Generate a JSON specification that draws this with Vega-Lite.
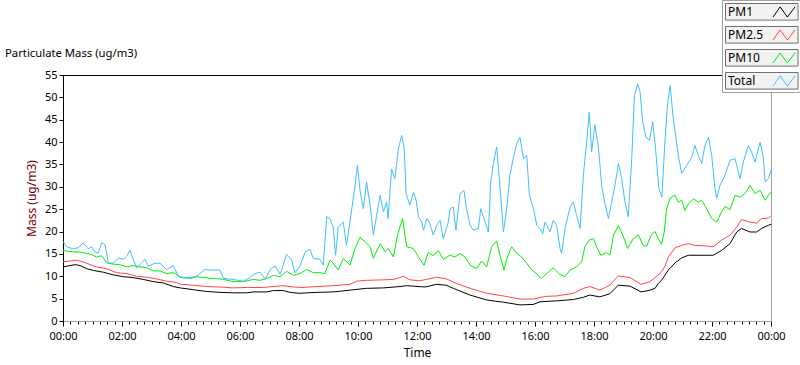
{
  "$schema": "https://vega.github.io/schema/vega-lite/v6.json",
  "width": 708,
  "height": 246,
  "autosize": {"type": "none"},
  "padding": {"left": 63, "top": 75, "right": 29, "bottom": 44},
  "background": "white",
  "title": {"text": "Particulate Mass (ug/m3)", "anchor": "start", "frame": "group", "dx": -58, "offset": -66, "baseline": "middle", "fontSize": 11.3, "fontWeight": "normal", "font": "Noto Sans", "color": "black"},
  "config": {"view": {"stroke": "#a0a0a0", "strokeWidth": 1}, "font": "Noto Sans"},
  "data": {"values": [
    {"series":"PM1","hour":0,"value":12.1},{"series":"PM1","hour":0.41,"value":12.6},{"series":"PM1","hour":0.58,"value":12.4},{"series":"PM1","hour":0.8,"value":11.7},{"series":"PM1","hour":1.03,"value":11.3},{"series":"PM1","hour":1.37,"value":10.9},{"series":"PM1","hour":1.71,"value":10.3},{"series":"PM1","hour":2.05,"value":9.9},{"series":"PM1","hour":2.38,"value":9.7},{"series":"PM1","hour":2.72,"value":9.3},{"series":"PM1","hour":3.06,"value":8.8},{"series":"PM1","hour":3.4,"value":8.5},{"series":"PM1","hour":3.74,"value":7.7},{"series":"PM1","hour":3.97,"value":7.4},{"series":"PM1","hour":4.42,"value":7.0},{"series":"PM1","hour":4.87,"value":6.6},{"series":"PM1","hour":5.32,"value":6.4},{"series":"PM1","hour":5.77,"value":6.3},{"series":"PM1","hour":6.23,"value":6.3},{"series":"PM1","hour":6.45,"value":6.5},{"series":"PM1","hour":6.9,"value":6.5},{"series":"PM1","hour":7.13,"value":6.8},{"series":"PM1","hour":7.47,"value":6.8},{"series":"PM1","hour":7.7,"value":6.4},{"series":"PM1","hour":8.0,"value":6.2},{"series":"PM1","hour":8.6,"value":6.4},{"series":"PM1","hour":9.16,"value":6.5},{"series":"PM1","hour":9.73,"value":6.9},{"series":"PM1","hour":10.29,"value":7.3},{"series":"PM1","hour":10.86,"value":7.4},{"series":"PM1","hour":11.42,"value":7.7},{"series":"PM1","hour":11.65,"value":7.9},{"series":"PM1","hour":12.27,"value":7.6},{"series":"PM1","hour":12.67,"value":8.2},{"series":"PM1","hour":12.99,"value":8.0},{"series":"PM1","hour":13.23,"value":7.3},{"series":"PM1","hour":13.8,"value":5.8},{"series":"PM1","hour":14.36,"value":4.7},{"series":"PM1","hour":14.93,"value":4.2},{"series":"PM1","hour":15.49,"value":3.6},{"series":"PM1","hour":15.94,"value":3.7},{"series":"PM1","hour":16.17,"value":4.3},{"series":"PM1","hour":16.73,"value":4.5},{"series":"PM1","hour":17.3,"value":4.8},{"series":"PM1","hour":17.64,"value":5.3},{"series":"PM1","hour":17.86,"value":5.8},{"series":"PM1","hour":18.2,"value":5.4},{"series":"PM1","hour":18.54,"value":6.1},{"series":"PM1","hour":18.82,"value":8.0},{"series":"PM1","hour":19.22,"value":7.8},{"series":"PM1","hour":19.6,"value":6.5},{"series":"PM1","hour":19.9,"value":6.9},{"series":"PM1","hour":20.07,"value":7.3},{"series":"PM1","hour":20.18,"value":8.4},{"series":"PM1","hour":20.29,"value":9.1},{"series":"PM1","hour":20.52,"value":11.4},{"series":"PM1","hour":20.75,"value":13.0},{"series":"PM1","hour":20.97,"value":14.1},{"series":"PM1","hour":21.2,"value":14.7},{"series":"PM1","hour":22.04,"value":14.7},{"series":"PM1","hour":22.33,"value":15.8},{"series":"PM1","hour":22.61,"value":17.3},{"series":"PM1","hour":22.84,"value":19.9},{"series":"PM1","hour":23.0,"value":20.7},{"series":"PM1","hour":23.29,"value":19.9},{"series":"PM1","hour":23.51,"value":19.9},{"series":"PM1","hour":23.68,"value":20.7},{"series":"PM1","hour":23.91,"value":21.4},{"series":"PM1","hour":24,"value":21.6},
    {"series":"PM2.5","hour":0,"value":13.2},{"series":"PM2.5","hour":0.46,"value":13.6},{"series":"PM2.5","hour":0.69,"value":13.2},{"series":"PM2.5","hour":0.92,"value":12.6},{"series":"PM2.5","hour":1.14,"value":12.1},{"series":"PM2.5","hour":1.48,"value":11.7},{"series":"PM2.5","hour":1.82,"value":10.8},{"series":"PM2.5","hour":2.16,"value":10.6},{"series":"PM2.5","hour":2.5,"value":10.0},{"series":"PM2.5","hour":2.84,"value":9.8},{"series":"PM2.5","hour":3.18,"value":9.4},{"series":"PM2.5","hour":3.51,"value":8.9},{"series":"PM2.5","hour":3.85,"value":8.6},{"series":"PM2.5","hour":4.0,"value":8.2},{"series":"PM2.5","hour":4.42,"value":8.0},{"series":"PM2.5","hour":4.87,"value":7.7},{"series":"PM2.5","hour":5.32,"value":7.6},{"series":"PM2.5","hour":5.77,"value":7.4},{"series":"PM2.5","hour":6.23,"value":7.5},{"series":"PM2.5","hour":6.79,"value":7.5},{"series":"PM2.5","hour":7.13,"value":7.7},{"series":"PM2.5","hour":7.47,"value":7.9},{"series":"PM2.5","hour":7.81,"value":7.6},{"series":"PM2.5","hour":8.1,"value":7.5},{"series":"PM2.5","hour":8.6,"value":7.7},{"series":"PM2.5","hour":9.16,"value":7.9},{"series":"PM2.5","hour":9.73,"value":8.2},{"series":"PM2.5","hour":9.95,"value":8.9},{"series":"PM2.5","hour":10.29,"value":9.1},{"series":"PM2.5","hour":10.86,"value":9.2},{"series":"PM2.5","hour":11.2,"value":9.3},{"series":"PM2.5","hour":11.42,"value":9.7},{"series":"PM2.5","hour":11.53,"value":10.0},{"series":"PM2.5","hour":11.76,"value":9.2},{"series":"PM2.5","hour":12.1,"value":9.0},{"series":"PM2.5","hour":12.67,"value":9.8},{"series":"PM2.5","hour":13.0,"value":9.4},{"series":"PM2.5","hour":13.33,"value":8.4},{"series":"PM2.5","hour":13.8,"value":7.3},{"series":"PM2.5","hour":14.36,"value":6.2},{"series":"PM2.5","hour":14.93,"value":5.6},{"series":"PM2.5","hour":15.49,"value":4.9},{"series":"PM2.5","hour":15.94,"value":4.9},{"series":"PM2.5","hour":16.34,"value":5.5},{"series":"PM2.5","hour":16.73,"value":5.6},{"series":"PM2.5","hour":17.3,"value":6.2},{"series":"PM2.5","hour":17.64,"value":7.3},{"series":"PM2.5","hour":17.86,"value":7.7},{"series":"PM2.5","hour":18.2,"value":6.9},{"series":"PM2.5","hour":18.54,"value":8.0},{"series":"PM2.5","hour":18.82,"value":10.1},{"series":"PM2.5","hour":19.22,"value":9.7},{"series":"PM2.5","hour":19.6,"value":8.2},{"series":"PM2.5","hour":19.9,"value":8.8},{"series":"PM2.5","hour":20.18,"value":10.3},{"series":"PM2.5","hour":20.29,"value":11.0},{"series":"PM2.5","hour":20.41,"value":12.3},{"series":"PM2.5","hour":20.52,"value":14.3},{"series":"PM2.5","hour":20.75,"value":16.4},{"series":"PM2.5","hour":20.97,"value":16.9},{"series":"PM2.5","hour":21.2,"value":17.3},{"series":"PM2.5","hour":21.42,"value":16.9},{"series":"PM2.5","hour":21.76,"value":16.8},{"series":"PM2.5","hour":22.04,"value":16.6},{"series":"PM2.5","hour":22.33,"value":18.1},{"series":"PM2.5","hour":22.61,"value":19.2},{"series":"PM2.5","hour":22.84,"value":21.0},{"series":"PM2.5","hour":23.0,"value":22.7},{"series":"PM2.5","hour":23.29,"value":22.1},{"series":"PM2.5","hour":23.51,"value":21.9},{"series":"PM2.5","hour":23.68,"value":22.9},{"series":"PM2.5","hour":23.91,"value":23.0},{"series":"PM2.5","hour":24,"value":23.6},
    {"series":"PM10","hour":0,"value":15.8},{"series":"PM10","hour":0.24,"value":15.5},{"series":"PM10","hour":0.58,"value":15.4},{"series":"PM10","hour":0.92,"value":15.0},{"series":"PM10","hour":1.14,"value":14.3},{"series":"PM10","hour":1.31,"value":14.6},{"series":"PM10","hour":1.48,"value":13.0},{"series":"PM10","hour":1.71,"value":12.7},{"series":"PM10","hour":1.93,"value":12.6},{"series":"PM10","hour":2.16,"value":12.1},{"series":"PM10","hour":2.38,"value":12.4},{"series":"PM10","hour":2.61,"value":12.1},{"series":"PM10","hour":2.84,"value":11.9},{"series":"PM10","hour":3.06,"value":11.2},{"series":"PM10","hour":3.29,"value":11.2},{"series":"PM10","hour":3.51,"value":10.6},{"series":"PM10","hour":3.74,"value":10.8},{"series":"PM10","hour":3.97,"value":9.9},{"series":"PM10","hour":4.31,"value":9.5},{"series":"PM10","hour":4.53,"value":9.9},{"series":"PM10","hour":4.76,"value":9.7},{"series":"PM10","hour":5.1,"value":9.5},{"series":"PM10","hour":5.44,"value":9.3},{"series":"PM10","hour":5.77,"value":8.8},{"series":"PM10","hour":6.11,"value":8.8},{"series":"PM10","hour":6.45,"value":9.3},{"series":"PM10","hour":6.68,"value":9.1},{"series":"PM10","hour":6.9,"value":9.5},{"series":"PM10","hour":7.13,"value":10.2},{"series":"PM10","hour":7.36,"value":9.9},{"series":"PM10","hour":7.58,"value":11.1},{"series":"PM10","hour":7.81,"value":10.2},{"series":"PM10","hour":8.03,"value":10.6},{"series":"PM10","hour":8.26,"value":11.5},{"series":"PM10","hour":8.49,"value":10.8},{"series":"PM10","hour":8.71,"value":10.8},{"series":"PM10","hour":8.88,"value":10.6},{"series":"PM10","hour":9.05,"value":13.6},{"series":"PM10","hour":9.16,"value":12.9},{"series":"PM10","hour":9.33,"value":11.4},{"series":"PM10","hour":9.5,"value":14.0},{"series":"PM10","hour":9.73,"value":12.5},{"series":"PM10","hour":9.9,"value":16.2},{"series":"PM10","hour":10.07,"value":18.7},{"series":"PM10","hour":10.24,"value":17.7},{"series":"PM10","hour":10.41,"value":16.6},{"series":"PM10","hour":10.52,"value":14.0},{"series":"PM10","hour":10.75,"value":17.3},{"series":"PM10","hour":10.92,"value":15.5},{"series":"PM10","hour":11.03,"value":16.2},{"series":"PM10","hour":11.2,"value":14.3},{"series":"PM10","hour":11.34,"value":19.2},{"series":"PM10","hour":11.51,"value":22.9},{"series":"PM10","hour":11.65,"value":16.6},{"series":"PM10","hour":11.88,"value":16.2},{"series":"PM10","hour":12.05,"value":14.3},{"series":"PM10","hour":12.24,"value":12.5},{"series":"PM10","hour":12.38,"value":15.3},{"series":"PM10","hour":12.55,"value":14.6},{"series":"PM10","hour":12.72,"value":15.8},{"series":"PM10","hour":12.89,"value":13.8},{"series":"PM10","hour":13.12,"value":14.7},{"series":"PM10","hour":13.29,"value":14.3},{"series":"PM10","hour":13.46,"value":15.1},{"series":"PM10","hour":13.63,"value":14.3},{"series":"PM10","hour":13.8,"value":12.5},{"series":"PM10","hour":14.02,"value":11.7},{"series":"PM10","hour":14.19,"value":13.4},{"series":"PM10","hour":14.36,"value":12.1},{"series":"PM10","hour":14.53,"value":16.6},{"series":"PM10","hour":14.7,"value":17.9},{"series":"PM10","hour":14.81,"value":14.7},{"series":"PM10","hour":14.95,"value":11.4},{"series":"PM10","hour":15.06,"value":14.3},{"series":"PM10","hour":15.21,"value":16.6},{"series":"PM10","hour":15.38,"value":15.1},{"series":"PM10","hour":15.55,"value":14.3},{"series":"PM10","hour":15.72,"value":12.9},{"series":"PM10","hour":15.89,"value":11.4},{"series":"PM10","hour":16.06,"value":10.6},{"series":"PM10","hour":16.2,"value":9.5},{"series":"PM10","hour":16.4,"value":10.6},{"series":"PM10","hour":16.62,"value":11.9},{"series":"PM10","hour":16.85,"value":10.4},{"series":"PM10","hour":17.02,"value":9.9},{"series":"PM10","hour":17.19,"value":11.4},{"series":"PM10","hour":17.41,"value":12.1},{"series":"PM10","hour":17.58,"value":13.2},{"series":"PM10","hour":17.69,"value":16.6},{"series":"PM10","hour":17.84,"value":18.1},{"series":"PM10","hour":17.98,"value":18.4},{"series":"PM10","hour":18.09,"value":16.6},{"series":"PM10","hour":18.23,"value":14.7},{"series":"PM10","hour":18.43,"value":15.3},{"series":"PM10","hour":18.54,"value":14.7},{"series":"PM10","hour":18.66,"value":19.2},{"series":"PM10","hour":18.83,"value":21.3},{"series":"PM10","hour":19.0,"value":18.8},{"series":"PM10","hour":19.14,"value":16.2},{"series":"PM10","hour":19.33,"value":18.4},{"series":"PM10","hour":19.5,"value":19.3},{"series":"PM10","hour":19.67,"value":16.9},{"series":"PM10","hour":19.78,"value":16.7},{"series":"PM10","hour":19.95,"value":19.3},{"series":"PM10","hour":20.07,"value":20.0},{"series":"PM10","hour":20.18,"value":18.4},{"series":"PM10","hour":20.29,"value":17.1},{"series":"PM10","hour":20.38,"value":19.9},{"series":"PM10","hour":20.46,"value":25.0},{"series":"PM10","hour":20.58,"value":27.5},{"series":"PM10","hour":20.75,"value":28.1},{"series":"PM10","hour":20.86,"value":26.5},{"series":"PM10","hour":20.97,"value":27.0},{"series":"PM10","hour":21.08,"value":24.7},{"series":"PM10","hour":21.2,"value":26.2},{"series":"PM10","hour":21.37,"value":27.3},{"series":"PM10","hour":21.54,"value":26.6},{"series":"PM10","hour":21.65,"value":27.0},{"series":"PM10","hour":21.82,"value":25.1},{"series":"PM10","hour":21.99,"value":22.9},{"series":"PM10","hour":22.16,"value":22.1},{"series":"PM10","hour":22.33,"value":24.5},{"series":"PM10","hour":22.44,"value":25.6},{"series":"PM10","hour":22.61,"value":24.9},{"series":"PM10","hour":22.78,"value":28.1},{"series":"PM10","hour":22.95,"value":27.7},{"series":"PM10","hour":23.12,"value":28.5},{"series":"PM10","hour":23.29,"value":30.3},{"series":"PM10","hour":23.46,"value":28.5},{"series":"PM10","hour":23.63,"value":29.2},{"series":"PM10","hour":23.8,"value":27.0},{"series":"PM10","hour":23.91,"value":28.1},{"series":"PM10","hour":24,"value":28.8},
    {"series":"Total","hour":0,"value":17.8},{"series":"Total","hour":0.12,"value":16.6},{"series":"Total","hour":0.35,"value":16.1},{"series":"Total","hour":0.52,"value":16.4},{"series":"Total","hour":0.69,"value":17.5},{"series":"Total","hour":0.86,"value":16.1},{"series":"Total","hour":0.97,"value":16.6},{"series":"Total","hour":1.08,"value":15.4},{"series":"Total","hour":1.2,"value":15.2},{"series":"Total","hour":1.31,"value":17.5},{"series":"Total","hour":1.42,"value":17.1},{"series":"Total","hour":1.54,"value":13.0},{"series":"Total","hour":1.71,"value":12.9},{"series":"Total","hour":1.88,"value":14.1},{"series":"Total","hour":2.05,"value":13.8},{"series":"Total","hour":2.16,"value":14.5},{"series":"Total","hour":2.27,"value":15.8},{"series":"Total","hour":2.38,"value":13.8},{"series":"Total","hour":2.5,"value":11.9},{"series":"Total","hour":2.67,"value":13.0},{"series":"Total","hour":2.78,"value":13.8},{"series":"Total","hour":2.89,"value":12.3},{"series":"Total","hour":3.12,"value":12.9},{"series":"Total","hour":3.29,"value":12.9},{"series":"Total","hour":3.51,"value":11.5},{"series":"Total","hour":3.74,"value":12.4},{"series":"Total","hour":3.91,"value":10.0},{"series":"Total","hour":4.08,"value":9.6},{"series":"Total","hour":4.31,"value":9.7},{"series":"Total","hour":4.53,"value":10.0},{"series":"Total","hour":4.81,"value":11.5},{"series":"Total","hour":4.98,"value":11.4},{"series":"Total","hour":5.32,"value":11.4},{"series":"Total","hour":5.44,"value":9.5},{"series":"Total","hour":5.77,"value":9.3},{"series":"Total","hour":6.11,"value":8.9},{"series":"Total","hour":6.33,"value":9.7},{"series":"Total","hour":6.5,"value":10.6},{"series":"Total","hour":6.68,"value":10.9},{"series":"Total","hour":6.85,"value":9.3},{"series":"Total","hour":7.02,"value":11.5},{"series":"Total","hour":7.19,"value":12.3},{"series":"Total","hour":7.36,"value":10.4},{"series":"Total","hour":7.58,"value":14.9},{"series":"Total","hour":7.75,"value":13.8},{"series":"Total","hour":7.86,"value":10.8},{"series":"Total","hour":8.03,"value":12.2},{"series":"Total","hour":8.2,"value":15.3},{"series":"Total","hour":8.37,"value":16.1},{"series":"Total","hour":8.48,"value":14.0},{"series":"Total","hour":8.71,"value":13.8},{"series":"Total","hour":8.82,"value":12.5},{"series":"Total","hour":8.94,"value":23.3},{"series":"Total","hour":9.05,"value":22.9},{"series":"Total","hour":9.16,"value":21.0},{"series":"Total","hour":9.24,"value":14.7},{"series":"Total","hour":9.33,"value":21.0},{"series":"Total","hour":9.5,"value":22.1},{"series":"Total","hour":9.61,"value":16.9},{"series":"Total","hour":9.79,"value":25.1},{"series":"Total","hour":9.9,"value":30.3},{"series":"Total","hour":9.98,"value":34.8},{"series":"Total","hour":10.07,"value":29.2},{"series":"Total","hour":10.18,"value":25.1},{"series":"Total","hour":10.29,"value":31.1},{"series":"Total","hour":10.41,"value":25.9},{"series":"Total","hour":10.52,"value":19.2},{"series":"Total","hour":10.63,"value":23.6},{"series":"Total","hour":10.75,"value":28.1},{"series":"Total","hour":10.86,"value":24.4},{"series":"Total","hour":10.97,"value":26.6},{"series":"Total","hour":11.02,"value":22.9},{"series":"Total","hour":11.14,"value":34.0},{"series":"Total","hour":11.25,"value":31.8},{"series":"Total","hour":11.37,"value":38.5},{"series":"Total","hour":11.48,"value":41.5},{"series":"Total","hour":11.57,"value":38.5},{"series":"Total","hour":11.63,"value":28.5},{"series":"Total","hour":11.76,"value":25.9},{"series":"Total","hour":11.88,"value":28.8},{"series":"Total","hour":11.97,"value":27.0},{"series":"Total","hour":12.05,"value":23.3},{"series":"Total","hour":12.16,"value":22.1},{"series":"Total","hour":12.22,"value":20.3},{"series":"Total","hour":12.33,"value":22.9},{"series":"Total","hour":12.44,"value":21.8},{"series":"Total","hour":12.55,"value":19.2},{"series":"Total","hour":12.67,"value":21.4},{"series":"Total","hour":12.78,"value":22.5},{"series":"Total","hour":12.89,"value":18.4},{"series":"Total","hour":13.06,"value":22.1},{"series":"Total","hour":13.12,"value":25.1},{"series":"Total","hour":13.23,"value":25.5},{"series":"Total","hour":13.32,"value":20.3},{"series":"Total","hour":13.46,"value":28.5},{"series":"Total","hour":13.59,"value":29.2},{"series":"Total","hour":13.68,"value":25.1},{"series":"Total","hour":13.8,"value":21.4},{"series":"Total","hour":13.91,"value":20.3},{"series":"Total","hour":14.08,"value":20.7},{"series":"Total","hour":14.16,"value":25.1},{"series":"Total","hour":14.31,"value":22.1},{"series":"Total","hour":14.42,"value":19.9},{"series":"Total","hour":14.5,"value":31.1},{"series":"Total","hour":14.59,"value":35.2},{"series":"Total","hour":14.7,"value":38.9},{"series":"Total","hour":14.81,"value":30.3},{"series":"Total","hour":14.93,"value":19.9},{"series":"Total","hour":15.04,"value":25.1},{"series":"Total","hour":15.15,"value":32.6},{"series":"Total","hour":15.27,"value":36.6},{"series":"Total","hour":15.38,"value":39.6},{"series":"Total","hour":15.49,"value":41.1},{"series":"Total","hour":15.61,"value":36.3},{"series":"Total","hour":15.72,"value":37.0},{"series":"Total","hour":15.81,"value":28.1},{"series":"Total","hour":15.95,"value":25.1},{"series":"Total","hour":16.06,"value":21.4},{"series":"Total","hour":16.17,"value":20.7},{"series":"Total","hour":16.26,"value":19.5},{"series":"Total","hour":16.34,"value":22.1},{"series":"Total","hour":16.4,"value":21.4},{"series":"Total","hour":16.51,"value":19.9},{"series":"Total","hour":16.62,"value":22.5},{"series":"Total","hour":16.73,"value":21.4},{"series":"Total","hour":16.85,"value":16.2},{"series":"Total","hour":16.9,"value":15.1},{"series":"Total","hour":17.02,"value":20.7},{"series":"Total","hour":17.19,"value":25.5},{"series":"Total","hour":17.3,"value":26.6},{"series":"Total","hour":17.41,"value":23.6},{"series":"Total","hour":17.53,"value":20.7},{"series":"Total","hour":17.64,"value":32.6},{"series":"Total","hour":17.75,"value":40.0},{"series":"Total","hour":17.84,"value":46.7},{"series":"Total","hour":17.92,"value":37.8},{"series":"Total","hour":18.03,"value":43.9},{"series":"Total","hour":18.15,"value":38.9},{"series":"Total","hour":18.26,"value":30.3},{"series":"Total","hour":18.37,"value":26.2},{"series":"Total","hour":18.49,"value":22.9},{"series":"Total","hour":18.6,"value":26.6},{"series":"Total","hour":18.71,"value":30.3},{"series":"Total","hour":18.83,"value":35.2},{"series":"Total","hour":18.94,"value":31.8},{"series":"Total","hour":19.05,"value":26.6},{"series":"Total","hour":19.16,"value":23.3},{"series":"Total","hour":19.28,"value":36.3},{"series":"Total","hour":19.37,"value":50.4},{"series":"Total","hour":19.48,"value":53.0},{"series":"Total","hour":19.56,"value":51.3},{"series":"Total","hour":19.65,"value":44.6},{"series":"Total","hour":19.76,"value":41.1},{"series":"Total","hour":19.88,"value":40.4},{"series":"Total","hour":19.99,"value":44.6},{"series":"Total","hour":20.08,"value":39.0},{"series":"Total","hour":20.2,"value":29.6},{"series":"Total","hour":20.3,"value":27.7},{"series":"Total","hour":20.41,"value":40.8},{"series":"Total","hour":20.5,"value":48.9},{"series":"Total","hour":20.58,"value":52.6},{"series":"Total","hour":20.69,"value":45.1},{"series":"Total","hour":20.86,"value":37.0},{"series":"Total","hour":20.97,"value":33.0},{"series":"Total","hour":21.14,"value":34.8},{"series":"Total","hour":21.31,"value":36.6},{"series":"Total","hour":21.42,"value":39.2},{"series":"Total","hour":21.54,"value":37.0},{"series":"Total","hour":21.65,"value":35.2},{"series":"Total","hour":21.76,"value":39.2},{"series":"Total","hour":21.88,"value":41.1},{"series":"Total","hour":21.99,"value":37.0},{"series":"Total","hour":22.1,"value":29.6},{"series":"Total","hour":22.16,"value":27.4},{"series":"Total","hour":22.27,"value":30.3},{"series":"Total","hour":22.44,"value":32.6},{"series":"Total","hour":22.61,"value":35.9},{"series":"Total","hour":22.78,"value":36.3},{"series":"Total","hour":22.95,"value":31.8},{"series":"Total","hour":23.06,"value":35.5},{"series":"Total","hour":23.23,"value":39.2},{"series":"Total","hour":23.34,"value":37.8},{"series":"Total","hour":23.46,"value":35.5},{"series":"Total","hour":23.63,"value":40.0},{"series":"Total","hour":23.74,"value":36.6},{"series":"Total","hour":23.8,"value":31.1},{"series":"Total","hour":23.91,"value":31.8},{"series":"Total","hour":24,"value":33.7}
  ]},
  "mark": {"type": "line", "strokeWidth": 1, "clip": true},
  "encoding": {
    "x": {
      "field": "hour", "type": "quantitative",
      "scale": {"domain": [0, 24], "nice": false},
      "axis": {
        "title": "Time", "titleFontSize": 12, "titleFontWeight": "normal", "titleColor": "black", "titlePadding": 6,
        "values": [0,0.25,0.5,0.75,1,1.25,1.5,1.75,2,2.25,2.5,2.75,3,3.25,3.5,3.75,4,4.25,4.5,4.75,5,5.25,5.5,5.75,6,6.25,6.5,6.75,7,7.25,7.5,7.75,8,8.25,8.5,8.75,9,9.25,9.5,9.75,10,10.25,10.5,10.75,11,11.25,11.5,11.75,12,12.25,12.5,12.75,13,13.25,13.5,13.75,14,14.25,14.5,14.75,15,15.25,15.5,15.75,16,16.25,16.5,16.75,17,17.25,17.5,17.75,18,18.25,18.5,18.75,19,19.25,19.5,19.75,20,20.25,20.5,20.75,21,21.25,21.5,21.75,22,22.25,22.5,22.75,23,23.25,23.5,23.75,24],
        "labelExpr": "datum.value % 2 === 0 ? ((datum.value % 24) < 10 ? '0' : '') + (datum.value % 24) + ':00' : ''",
        "labelOverlap": false, "labelFlush": false, "labelFontSize": 11, "labelColor": "black", "labelPadding": 4,
        "tickSize": {"condition": {"test": "datum.value % 2 === 0", "value": 5}, "value": 3},
        "tickColor": "black", "domainColor": "#a0a0a0", "grid": false
      }
    },
    "y": {
      "field": "value", "type": "quantitative",
      "scale": {"domain": [0, 55], "nice": false},
      "axis": {
        "title": "Mass (ug/m3)", "titleFontSize": 12, "titleFontWeight": "normal", "titleColor": "#800000", "titlePadding": 6,
        "values": [0,5,10,15,20,25,30,35,40,45,50,55],
        "labelOverlap": false, "labelFlush": false,
        "labelFontSize": 11, "labelColor": "black", "labelPadding": 2, "tickSize": 4, "tickColor": "black", "domainColor": "black",
        "grid": true, "gridColor": "black", "gridWidth": 1,
        "gridOpacity": {"condition": {"test": "datum.value === 55", "value": 1}, "value": 0}
      }
    },
    "color": {
      "field": "series", "type": "nominal",
      "scale": {"domain": ["PM1", "PM2.5", "PM10", "Total"], "range": ["#000000", "#ff4646", "#00f000", "#40bfff"]},
      "legend": {
        "orient": "none", "legendX": 659, "legendY": -75, "title": null,
        "symbolType": "M-1.3,0.6L-0.45,-0.6L0.4,0.6L1.3,-0.6",
        "symbolSize": 289, "symbolStrokeWidth": 1,
        "symbolOffset": 50, "labelOffset": -65,
        "labelFontSize": 12, "labelColor": "black", "labelFont": "Noto Sans",
        "rowPadding": 6, "padding": 3, "strokeColor": "#a0a0a0", "fillColor": "white",
        "encode": {
          "symbols": {"update": {"fill": {"value": "transparent"}}},
          "entries": {"update": {"fill": {"value": "#f2f2f2"}, "stroke": {"value": "#707070"}}}
        }
      }
    }
  }
}
